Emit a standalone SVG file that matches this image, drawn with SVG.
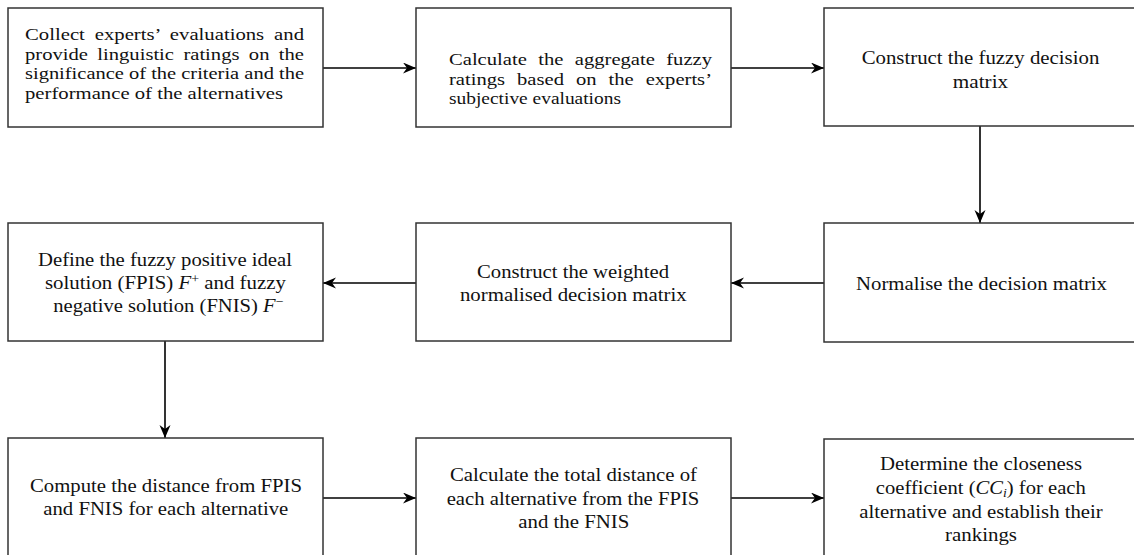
<svg xmlns="http://www.w3.org/2000/svg" width="1134" height="555" viewBox="0 0 1134 555">
<style>
  .box { fill: #ffffff; stroke: #333333; stroke-width: 1.5; }
  .t { font-family: "Liberation Serif", "Times New Roman", serif; fill: #111111; }
  .s { font-size: 17.5px; }
  .m { font-size: 19.5px; text-anchor: middle; }
  .c { stroke: #000000; stroke-width: 1.6; fill: none; marker-end: url(#ah); }
  .it { font-style: italic; }
</style>
<defs>
  <marker id="ah" markerUnits="userSpaceOnUse" markerWidth="16" markerHeight="14" refX="13" refY="5.5" orient="auto">
    <path d="M0,0 L13,5.5 L0,11 L4,5.5 z" fill="#000000"/>
  </marker>
</defs>
<rect x="0" y="0" width="1134" height="555" fill="#ffffff"/>

<g id="connectors">
  <line class="c" x1="323" y1="68" x2="416" y2="68"/>
  <line class="c" x1="731" y1="68" x2="824" y2="68"/>
  <line class="c" x1="980" y1="126" x2="980" y2="223"/>
  <line class="c" x1="824" y1="283" x2="731" y2="283"/>
  <line class="c" x1="416" y1="283" x2="323" y2="283"/>
  <line class="c" x1="165" y1="341" x2="165" y2="438"/>
  <line class="c" x1="323" y1="498" x2="416" y2="498"/>
  <line class="c" x1="731" y1="498" x2="824" y2="498"/>
</g>

<g id="n1">
  <rect class="box" x="8" y="8" width="315" height="119"/>
  <text class="t s" x="25" y="40" textLength="279" lengthAdjust="spacingAndGlyphs" word-spacing="4">Collect experts’ evaluations and</text>
  <text class="t s" x="25" y="59.5" textLength="279" lengthAdjust="spacingAndGlyphs" word-spacing="3.6">provide linguistic ratings on the</text>
  <text class="t s" x="25" y="79" textLength="279" lengthAdjust="spacingAndGlyphs">significance of the criteria and the</text>
  <text class="t s" x="25" y="98.5" textLength="258" lengthAdjust="spacingAndGlyphs">performance of the alternatives</text>
</g>

<g id="n2">
  <rect class="box" x="416" y="8" width="315" height="119"/>
  <text class="t s" x="449" y="65" textLength="263" lengthAdjust="spacingAndGlyphs" word-spacing="5.3">Calculate the aggregate fuzzy</text>
  <text class="t s" x="449" y="84.5" textLength="263" lengthAdjust="spacingAndGlyphs" word-spacing="5.8">ratings based on the experts’</text>
  <text class="t s" x="449" y="104" textLength="172" lengthAdjust="spacingAndGlyphs">subjective evaluations</text>
</g>

<g id="n3">
  <rect class="box" x="824" y="8" width="315" height="118"/>
  <text class="t m" x="980.5" y="64" textLength="237.7" lengthAdjust="spacingAndGlyphs">Construct the fuzzy decision</text>
  <text class="t m" x="980.5" y="87.5" textLength="55.3" lengthAdjust="spacingAndGlyphs">matrix</text>
</g>

<g id="n4">
  <rect class="box" x="8" y="223" width="315" height="118"/>
  <text class="t m" x="165" y="265.5" textLength="254" lengthAdjust="spacingAndGlyphs">Define the fuzzy positive ideal</text>
  <text class="t m" x="165.5" y="289" textLength="241" lengthAdjust="spacingAndGlyphs">solution (FPIS) <tspan class="it">F</tspan><tspan font-size="13px" baseline-shift="45%">+</tspan> and fuzzy</text>
  <text class="t m" x="168.3" y="312" textLength="230" lengthAdjust="spacingAndGlyphs">negative solution (FNIS) <tspan class="it">F</tspan><tspan font-size="13px" baseline-shift="45%">−</tspan></text>
</g>

<g id="n5">
  <rect class="box" x="416" y="223" width="315" height="118"/>
  <text class="t m" x="573" y="277.5" textLength="192" lengthAdjust="spacingAndGlyphs">Construct the weighted</text>
  <text class="t m" x="573.3" y="301" textLength="226.7" lengthAdjust="spacingAndGlyphs">normalised decision matrix</text>
</g>

<g id="n6">
  <rect class="box" x="824" y="223" width="315" height="119"/>
  <text class="t m" x="981.5" y="289.5" textLength="251" lengthAdjust="spacingAndGlyphs">Normalise the decision matrix</text>
</g>

<g id="n7">
  <rect class="box" x="8" y="438" width="315" height="119"/>
  <text class="t m" x="166" y="491.5" textLength="272" lengthAdjust="spacingAndGlyphs">Compute the distance from FPIS</text>
  <text class="t m" x="165.8" y="515" textLength="245" lengthAdjust="spacingAndGlyphs">and FNIS for each alternative</text>
</g>

<g id="n8">
  <rect class="box" x="416" y="438" width="315" height="119"/>
  <text class="t m" x="573.5" y="481" textLength="247" lengthAdjust="spacingAndGlyphs">Calculate the total distance of</text>
  <text class="t m" x="573" y="504.5" textLength="252.6" lengthAdjust="spacingAndGlyphs">each alternative from the FPIS</text>
  <text class="t m" x="573.8" y="528" textLength="111" lengthAdjust="spacingAndGlyphs">and the FNIS</text>
</g>

<g id="n9">
  <rect class="box" x="824" y="439" width="315" height="119"/>
  <text class="t m" x="981" y="470" textLength="202" lengthAdjust="spacingAndGlyphs">Determine the closeness</text>
  <text class="t m" x="980.8" y="494" textLength="210" lengthAdjust="spacingAndGlyphs">coefficient (<tspan class="it">CC</tspan><tspan class="it" font-size="13px" baseline-shift="-20%">i</tspan>) for each</text>
  <text class="t m" x="981" y="518" textLength="243.4" lengthAdjust="spacingAndGlyphs">alternative and establish their</text>
  <text class="t m" x="981" y="541" textLength="72" lengthAdjust="spacingAndGlyphs">rankings</text>
</g>
</svg>
